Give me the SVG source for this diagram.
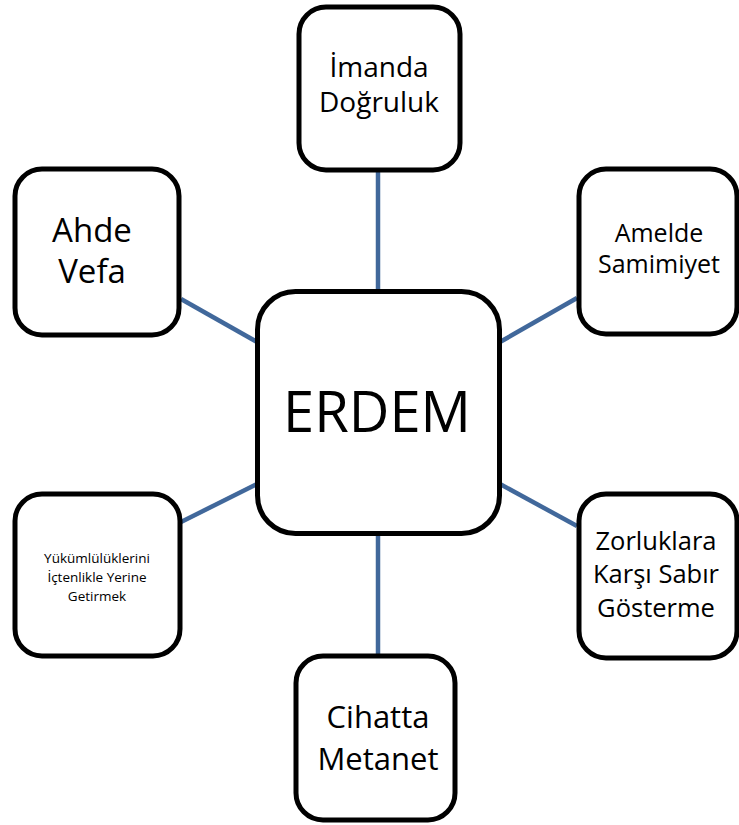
<svg xmlns="http://www.w3.org/2000/svg" width="739" height="825" viewBox="0 0 739 825">
<style>
.box{fill:#fff;stroke:#000;stroke-width:5}
.c{stroke:#41689B;stroke-width:4.5;fill:none}
text{font-family:"Open Sans","Noto Sans",sans-serif;fill:#000;text-anchor:middle}
</style>
<rect width="739" height="825" fill="#fff"/>
<g id="connectors">
<line class="c" x1="378" y1="172" x2="378" y2="291"/>
<line class="c" x1="378" y1="533" x2="378" y2="655"/>
<line class="c" x1="181" y1="299" x2="257" y2="342"/>
<line class="c" x1="500" y1="342" x2="577" y2="298"/>
<line class="c" x1="257" y1="484" x2="181" y2="522"/>
<line class="c" x1="500" y1="484" x2="577" y2="526"/>
</g>
<g id="erdem">
<rect class="box" x="257.5" y="291.5" width="242" height="242" rx="38"/>
<text x="377" y="432" font-size="56">ERDEM</text>
</g>
<g id="imanda">
<rect class="box" x="299" y="7" width="161" height="163" rx="27"/>
<text x="379" y="77" font-size="28">İmanda</text>
<text x="379" y="112" font-size="28">Doğruluk</text>
</g>
<g id="amelde">
<rect class="box" x="579" y="169" width="158" height="165" rx="27"/>
<text x="659" y="242" font-size="25">Amelde</text>
<text x="659" y="273" font-size="25">Samimiyet</text>
</g>
<g id="ahde">
<rect class="box" x="15" y="169" width="164" height="166" rx="27"/>
<text x="92" y="242" font-size="33">Ahde</text>
<text x="92" y="283" font-size="33">Vefa</text>
</g>
<g id="yukumluluk">
<rect class="box" x="15" y="494" width="165" height="162" rx="27"/>
<text x="97" y="563" font-size="13.5">Yükümlülüklerini</text>
<text x="97" y="582" font-size="13.5">İçtenlikle Yerine</text>
<text x="97" y="601" font-size="13.5">Getirmek</text>
</g>
<g id="zorluklara">
<rect class="box" x="579" y="494" width="158" height="164" rx="27"/>
<text x="656" y="550" font-size="25.5">Zorluklara</text>
<text x="656" y="583" font-size="25.5">Karşı Sabır</text>
<text x="656" y="617" font-size="25.5">Gösterme</text>
</g>
<g id="cihatta">
<rect class="box" x="296" y="656" width="159" height="164" rx="27"/>
<text x="378" y="728" font-size="31">Cihatta</text>
<text x="378" y="770" font-size="31">Metanet</text>
</g>
</svg>
